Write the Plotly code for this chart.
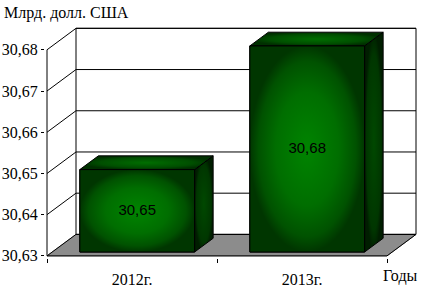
import plotly.graph_objects as go

# ---- data ----
categories = ["2012г.", "2013г."]
values = [30.65, 30.68]
y_ticks = [30.63, 30.64, 30.65, 30.66, 30.67, 30.68]
y_title = "Млрд. долл. США"
x_title = "Годы"

# ---- pseudo-3D geometry (pixel layout of the front plane + depth) ----
W, H = 422, 300
Y0, Y1 = y_ticks[0], y_ticks[-1]
front_left, front_right = 47, 387
front_bottom, front_top = 262, 51
depth_dx_px, depth_dy_px = 29, 22
pad_px = 2

ppu_x = (front_right - front_left) / len(categories)
ppu_y = (front_bottom - front_top) / (Y1 - Y0)
DX = depth_dx_px / ppu_x
DY = depth_dy_px / ppu_y
padx = pad_px / ppu_x
pady = pad_px / ppu_y

x_lo, x_hi = -0.5, len(categories) - 0.5
xr = [x_lo - padx, x_hi + DX + padx]
yr = [Y0 - pady, Y1 + DY + pady]
dom_x = [(front_left - pad_px) / W, (front_right + depth_dx_px + pad_px) / W]
dom_y = [(H - front_bottom - pad_px) / H, (H - (front_top - depth_dy_px) + pad_px) / H]

bar_w = 0.675
d0, d1 = 0.18, 0.82  # depth of bar front / back face

SERIF = "Liberation Serif, Times New Roman, serif"
SANS = "Liberation Sans, Arial, sans-serif"

fig = go.Figure()

# ---- walls, floor, grid (shapes below traces) ----
shapes = []
shapes.append(dict(type="path", xref="x", yref="y", layer="below",
                   path=f"M {x_lo},{Y0} L {x_hi},{Y0} L {x_hi+DX},{Y0+DY} L {x_lo+DX},{Y0+DY} Z",
                   fillcolor="#8c8c8c", line=dict(color="#7a7a7a", width=1)))
shapes.append(dict(type="rect", xref="x", yref="y", layer="below",
                   x0=x_lo+DX, x1=x_hi+DX, y0=Y0+DY, y1=Y1+DY,
                   line=dict(color="black", width=1)))
for v in y_ticks:
    shapes.append(dict(type="line", xref="x", yref="y", layer="below",
                       x0=x_lo+DX, x1=x_hi+DX, y0=v+DY, y1=v+DY,
                       line=dict(color="black", width=1)))
    shapes.append(dict(type="line", xref="x", yref="y", layer="below",
                       x0=x_lo, x1=x_lo+DX, y0=v, y1=v+DY,
                       line=dict(color="black", width=1)))
shapes.append(dict(type="line", xref="x", yref="y", x0=x_lo, x1=x_lo, y0=Y0, y1=Y1,
                   line=dict(color="black", width=1)))
shapes.append(dict(type="line", xref="x", yref="y", x0=x_lo, x1=x_hi, y0=Y0, y1=Y0,
                   line=dict(color="black", width=1)))
shapes.append(dict(type="line", xref="x", yref="y", layer="below",
                   x0=x_hi, x1=x_hi+DX, y0=Y0, y1=Y0+DY,
                   line=dict(color="black", width=1)))

# ---- bars ----
ddx = (d1 - d0) * DX
ddy = (d1 - d0) * DY
base = Y0 + d0 * DY

# front faces as bars (the data marks; shading drawn over them)
fig.add_trace(go.Bar(
    x=list(range(len(categories))), y=[v + d0 * DY - base for v in values],
    base=base, width=bar_w, offset=-bar_w / 2 + d0 * DX,
    marker=dict(color="#006400", line=dict(color="black", width=1)),
    hoverinfo="skip", showlegend=False))

label_x, label_y = [], []
for i, v in enumerate(values):
    l = i - bar_w / 2 + d0 * DX
    r = i + bar_w / 2 + d0 * DX
    t = v + d0 * DY
    # side face
    fig.add_trace(go.Scatter(
        x=[r, r + ddx, r + ddx, r, r], y=[base, base + ddy, t + ddy, t, base],
        mode="lines", fill="toself", line=dict(color="black", width=1),
        fillcolor="#003200",
        fillgradient=dict(type="radial", colorscale=[[0, "#004800"], [0.8, "#003600"], [1, "#001e00"]]),
        hoverinfo="skip", showlegend=False))
    # top face
    fig.add_trace(go.Scatter(
        x=[l, r, r + ddx, l + ddx, l], y=[t, t, t + ddy, t + ddy, t],
        mode="lines", fill="toself", line=dict(color="black", width=1),
        fillcolor="#004a00",
        fillgradient=dict(type="radial", colorscale=[[0, "#006e00"], [0.7, "#004e00"], [1, "#003000"]]),
        hoverinfo="skip", showlegend=False))
    # front face shading
    fig.add_trace(go.Scatter(
        x=[l, r, r, l, l], y=[base, base, t, t, base],
        mode="lines", fill="toself", line=dict(color="black", width=1),
        fillcolor="#006400",
        fillgradient=dict(type="radial", colorscale=[[0, "#008400"], [0.55, "#006e00"], [0.85, "#005200"], [1, "#003600"]]),
        hoverinfo="skip", showlegend=False))
    label_x.append(i + d0 * DX)
    label_y.append((base + t) / 2)

fig.add_trace(go.Scatter(
    x=label_x, y=label_y, mode="text",
    text=[f"{v:.2f}".replace(".", ",") for v in values],
    textfont=dict(family=SANS, size=15, color="black"),
    hoverinfo="skip", showlegend=False))

fig.update_layout(
    width=W, height=H,
    margin=dict(l=0, r=0, t=0, b=0),
    paper_bgcolor="white", plot_bgcolor="rgba(0,0,0,0)",
    shapes=shapes,
    showlegend=False,
    font=dict(family=SERIF, size=16, color="black"),
    xaxis=dict(domain=dom_x, range=xr, showgrid=False, zeroline=False, showline=False,
               tickmode="array", tickvals=list(range(len(categories))), ticktext=categories,
               ticks="", ticklabelstandoff=10,
               minor=dict(tickmode="array", tickvals=[x_lo + k for k in range(len(categories) + 1)],
                          ticks="outside", ticklen=4, tickcolor="black", showgrid=False),
               fixedrange=True),
    yaxis=dict(domain=dom_y, range=yr, showgrid=False, zeroline=False, showline=False,
               tickmode="array", tickvals=y_ticks,
               ticktext=[f"{v:.2f}".replace(".", ",") for v in y_ticks],
               ticks="outside", ticklen=3, tickcolor="black", ticklabelstandoff=0,
               fixedrange=True),
    annotations=[
        dict(text=y_title, xref="paper", yref="paper", x=2 / W, y=1 - 13 / H,
             xanchor="left", yanchor="middle", showarrow=False,
             font=dict(family=SERIF, size=16)),
        dict(text=x_title, xref="paper", yref="paper", x=400 / W, y=1 - 283 / H,
             xanchor="center", yanchor="middle", showarrow=False,
             font=dict(family=SERIF, size=16)),
    ],
)

fig.write_html("out.html")
